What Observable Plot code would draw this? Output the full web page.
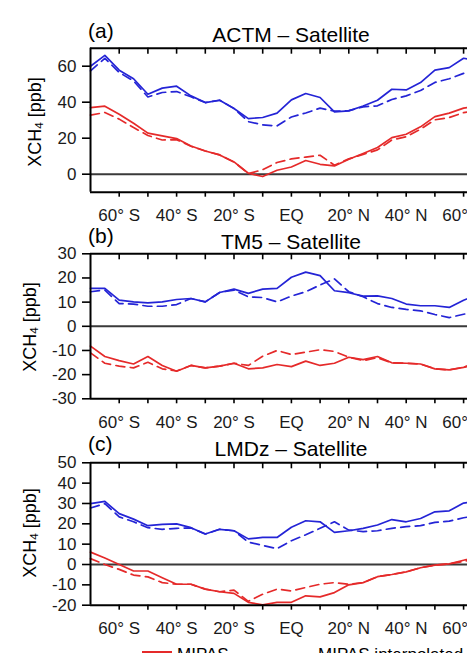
<!DOCTYPE html>
<html><head><meta charset="utf-8">
<script src="https://cdn.jsdelivr.net/npm/d3@7"></script>
<script src="https://cdn.jsdelivr.net/npm/@observablehq/plot@0.6"></script>
<style>
body{margin:0;background:#fff;}
#wrap{position:relative;width:467px;height:653px;overflow:hidden;font-family:"Liberation Sans",Arial,sans-serif;color:#000;background:#fff;}
.panel{position:absolute;left:0;}
.title{position:absolute;font-size:21px;line-height:21px;white-space:nowrap;transform:translateX(-50%);}
.tag{position:absolute;font-size:21px;line-height:21px;white-space:nowrap;}
.ylab{position:absolute;font-size:18px;line-height:18px;white-space:nowrap;transform:translate(-50%,-50%) rotate(-90deg);}
.ylab sub{font-size:0.65em;vertical-align:-0.2em;line-height:0;}
.leg{position:absolute;font-size:17px;line-height:17px;white-space:nowrap;}
</style></head>
<body>
<div id="wrap"></div>
<script>
// Latitude grid (degrees; negative = south)
const lat = [-70,-65,-60,-55,-50,-45,-40,-35,-30,-25,-20,-15,-10,-5,0,5,10,15,20,25,30,35,40,45,50,55,60,65];
const latTicks = [-60,-40,-20,0,20,40,60];
const latTickLabels = ["60° S","40° S","20° S","EQ","20° N","40° N","60° N"];
const latAllTicks = [-60,-50,-40,-30,-20,-10,0,10,20,30,40,50,60];

// Panel (a) ACTM – Satellite
const actmBlue     = [60,66,57.8,53,44.4,47.8,48.9,43.5,39.8,41.1,36.5,30.9,31.5,33.9,41.3,44.8,42.6,34.6,35.2,37.9,41.1,47.2,46.8,50.9,57.8,59.2,64.4,63];
const actmBlueDash = [57.4,64.4,56.5,51.8,42.9,45.4,45.9,43,39.8,41.1,36.5,29.2,27.4,26.8,31.8,34,36.7,35,35.3,37.4,38,41.5,43.5,46.5,51,53,56,57];
const actmRed      = [37,37.8,33.3,28.3,22.8,21.3,19.8,15.7,12.9,10.7,6.8,0.5,-1.3,2.2,4,7.6,5.5,4.6,8.3,11.5,14.8,20.3,22.2,26.3,32,33.9,36.7,38];
const actmRedDash  = [32.8,34.3,30.6,25.9,21.5,19,19.2,15.5,12.9,10.7,6.8,0.3,2.5,6.5,8.5,9.5,10.5,5,8.5,11,13.5,19,20.8,25,30.2,31.5,34.2,35.5];

// Panel (b) TM5 – Satellite
const tm5Blue      = [15.7,15.7,10.8,10.1,9.7,10.1,11.1,11.5,10.1,14,15.4,13.6,15.4,15.7,20.3,22.4,21,14.7,13.9,12.5,12.6,11.5,9.2,8.5,8.5,7.8,10.8,13];
const tm5BlueDash  = [14.3,15,9.4,9.2,8.3,8.3,9,11.5,10.1,14,15,12.2,11.9,10.1,12.5,14.3,17.1,19.6,14.3,12.2,9.4,7.8,7,6.4,4.9,3.6,5,6];
const tm5Red       = [-8.2,-12.5,-14.2,-15.6,-12.5,-16.2,-18.6,-16.2,-17.2,-16.5,-15.3,-17.6,-17.2,-15.8,-16.7,-14.4,-16.2,-15.3,-12.8,-13.8,-12.5,-15.1,-15.3,-15.6,-17.6,-18,-17,-15];
const tm5RedDash   = [-11,-15.3,-16.5,-17.2,-14.9,-17.6,-18.5,-16.2,-17.2,-16.5,-15.3,-16.2,-12.4,-10,-11.7,-10.7,-9.7,-10.4,-12.8,-14.2,-13,-15.1,-15.3,-15.6,-17.6,-18,-17,-15];

// Panel (c) LMDz – Satellite
const lmdzBlue     = [29.9,31,25,22.3,19.1,19.7,20,18.1,15,17.3,16.6,12.6,13.3,13.3,18.3,21.5,21,15.8,16.6,17.8,19.4,22.1,21,22.6,25.9,26.4,30.2,31];
const lmdzBlueDash = [27.8,29.9,23.4,21,18.1,17.3,17.8,18,15,17.3,16.6,11,9.4,7.8,11.7,14.6,17.8,21,16.9,16.2,16.6,17.8,18.6,19.1,20.7,21.3,23,24];
const lmdzRed      = [6.1,3.2,0,-3.2,-3.2,-6.5,-9.7,-9.7,-12.1,-13.4,-14.2,-18.6,-19.8,-18.6,-18.6,-15.4,-15.9,-13.8,-10,-8.9,-6,-4.9,-3.6,-1.6,-0.3,0.3,2.1,4];
const lmdzRedDash  = [2.9,0,-2.4,-5.2,-6.1,-8.9,-9.7,-9.7,-12.1,-13.4,-12.6,-18.1,-14.6,-12.1,-13,-11.3,-9.7,-8.9,-9.7,-8.9,-6,-4.9,-3.6,-1.6,-0.3,0.3,1.5,3];

const titles = ["ACTM – Satellite","TM5 – Satellite","LMDz – Satellite"];
const tags = ["(a)","(b)","(c)"];
const legendLabels = ["MIPAS","MIPAS interpolated"];

const BLUE = "#2424d6", RED = "#e52a2a";
const FONT = "Liberation Sans, Arial, sans-serif";
const labelMap = new Map(latTicks.map((v,i)=>[v, latTickLabels[i]]));
const table = arr => lat.map((x,i)=>({lat:x, v:arr[i]}));

const wrap = document.getElementById("wrap");

function makePanel(cfg){
  const {top, mt, ih, mb, ydom, yticks, series} = cfg;
  const height = mt + ih + mb;
  const marks = [
    Plot.ruleY([0], {stroke:"#3a3a3a", strokeWidth:2}),
    ...series.map(s => Plot.line(table(s.values), {x:"lat", y:"v", stroke:s.color, strokeWidth:1.7,
        strokeDasharray: s.dash ? "9,5.5" : null, curve:"linear"})),
    Plot.ruleY([ydom[0]], {stroke:"#000", strokeWidth:2}),
    Plot.ruleY([ydom[1]], {stroke:"#000", strokeWidth:2}),
    Plot.ruleX([-70], {stroke:"#000", strokeWidth:2}),
    Plot.tickX(latAllTicks, {x:d=>d, insetBottom: ih - 6, stroke:"#000", strokeWidth:1.6}),
    Plot.axisX({ticks: latAllTicks, tickFormat: d => labelMap.get(d) ?? "", tickSize:5, tickPadding:12,
        fontSize:17, strokeWidth:1.6, label:null, fill:"#1a1a1a"}),
    Plot.axisY({ticks: yticks, tickFormat: d => String(d), tickSize:8, tickPadding:6,
        fontSize:17, strokeWidth:1.6, label:null, fill:"#1a1a1a"})
  ];
  const svg = Plot.plot({
    width: 467, height,
    marginLeft: 90, marginRight: 0, marginTop: mt, marginBottom: mb,
    x: {domain:[-70,70], range:[90, 491.8]},
    y: {domain: ydom},
    style: {fontFamily: FONT, background:"transparent", maxWidth:"none", overflow:"hidden"},
    marks
  });
  svg.classList.add("panel");
  svg.style.top = top + "px";
  wrap.appendChild(svg);
}

makePanel({top:0, mt:47.7, ih:144, mb:36, ydom:[-10,70], yticks:[0,20,40,60],
  series:[{values:actmBlueDash,color:BLUE,dash:true},{values:actmBlue,color:BLUE},
          {values:actmRedDash,color:RED,dash:true},{values:actmRed,color:RED}]});
makePanel({top:220, mt:33.3, ih:145, mb:36, ydom:[-30,30], yticks:[-30,-20,-10,0,10,20,30],
  series:[{values:tm5BlueDash,color:BLUE,dash:true},{values:tm5Blue,color:BLUE},
          {values:tm5RedDash,color:RED,dash:true},{values:tm5Red,color:RED}]});
makePanel({top:430, mt:32.3, ih:142.4, mb:36, ydom:[-20,50], yticks:[-20,-10,0,10,20,30,40,50],
  series:[{values:lmdzBlueDash,color:BLUE,dash:true},{values:lmdzBlue,color:BLUE},
          {values:lmdzRedDash,color:RED,dash:true},{values:lmdzRed,color:RED}]});

// Titles, panel tags, y labels
const titleTops = [23.9, 230.5, 437.9];
const tagTops = [19.7, 225.2, 433];
const ylabPos = [[34.5,122],[29.5,327],[29.5,533]];
titleTops.forEach((t,i)=>{
  const d = document.createElement("div"); d.className="title"; d.textContent = titles[i];
  d.style.left = "291px"; d.style.top = t+"px"; wrap.appendChild(d);
  const g = document.createElement("div"); g.className="tag"; g.textContent = tags[i];
  g.style.left = "88px"; g.style.top = tagTops[i]+"px"; wrap.appendChild(g);
  const y = document.createElement("div"); y.className="ylab"; y.innerHTML = "XCH<sub>4</sub> [ppb]";
  y.style.left = ylabPos[i][0]+"px"; y.style.top = ylabPos[i][1]+"px"; wrap.appendChild(y);
});

// Legend (partly cut off at the bottom edge)
const sw = document.createElement("div");
sw.style.cssText = `position:absolute;left:141.7px;top:651px;width:30px;height:3px;background:${RED};`;
wrap.appendChild(sw);
const l1 = document.createElement("div"); l1.className="leg"; l1.textContent = legendLabels[0];
l1.style.left="177px"; l1.style.top="645.5px"; wrap.appendChild(l1);
const l2 = document.createElement("div"); l2.className="leg"; l2.textContent = legendLabels[1];
l2.style.left="318px"; l2.style.top="645.5px"; wrap.appendChild(l2);
</script>
</body></html>
